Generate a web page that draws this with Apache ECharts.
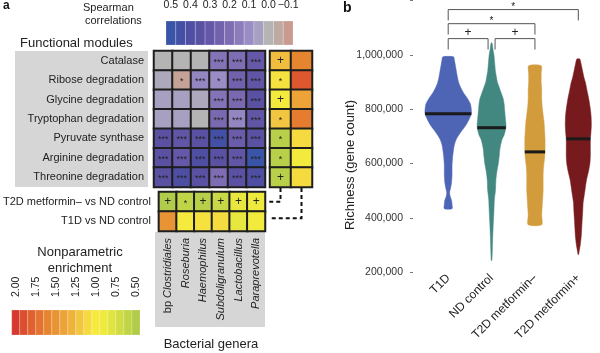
<!DOCTYPE html>
<html>
<head>
<meta charset="utf-8">
<script src="https://cdn.jsdelivr.net/npm/echarts@6/dist/echarts.min.js"></script>
<style>html,body{margin:0;padding:0;background:#fff}#c{width:600px;height:353px}</style>
</head>
<body>
<div id="c"></div>
<script>
// ---------- DATA ----------
const genera = ['bp Clostridiales', 'Roseburia', 'Haemophilus', 'Subdoligranulum', 'Lactobacillus', 'Paraprevotella'];
const modules = ['Catalase', 'Ribose degradation', 'Glycine degradation', 'Tryptophan degradation', 'Pyruvate synthase', 'Arginine degradation', 'Threonine degradation'];
const comparisons = ['T2D metformin\u2013 vs ND control', 'T1D vs ND control'];

// Spearman correlation (rows = modules, cols = genera)
const corrValues = [
  [0.00, 0.00, 0.00, 0.18, 0.20, 0.30],
  [0.03, -0.08, 0.12, 0.10, 0.25, 0.32],
  [0.05, 0.05, 0.03, 0.18, 0.22, 0.35],
  [0.05, 0.05, 0.00, 0.22, 0.12, 0.32],
  [0.35, 0.32, 0.35, 0.45, 0.28, 0.35],
  [0.35, 0.30, 0.40, 0.35, 0.32, 0.50],
  [0.35, 0.40, 0.35, 0.20, 0.35, 0.40]
];
const corrStars = [
  ['', '', '', '***', '***', '***'],
  ['', '*', '***', '*', '***', '***'],
  ['', '', '', '***', '***', '***'],
  ['', '', '', '***', '***', '***'],
  ['***', '***', '***', '***', '***', '***'],
  ['***', '***', '***', '***', '***', '***'],
  ['***', '***', '***', '***', '***', '***']
];
// module enrichment (rows = modules, cols = comparisons)
const moduleEnrich = [
  [1.25, 1.60], [1.05, 1.85], [0.95, 1.40], [1.20, 1.65], [0.55, 1.10], [0.55, 0.95], [0.55, 1.10]
];
const moduleEnrichSig = [['+', ''], ['*', ''], ['+', ''], ['*', ''], ['*', ''], ['*', ''], ['+', '']];
// genus enrichment (rows = comparisons, cols = genera)
const genusEnrich = [
  [0.50, 0.60, 0.55, 0.65, 0.85, 0.90],
  [1.50, 1.00, 1.05, 1.10, 0.85, 0.95]
];
const genusEnrichSig = [['+', '*', '+', '+', '+', '+'], ['', '', '', '', '', '']];

// colour scales
const spearmanBar = [0.5, 0.45, 0.4, 0.35, 0.3, 0.25, 0.2, 0.15, 0.1, 0.05, 0.0, -0.05, -0.1];
const spearmanColors = ['#3a55a8', '#4350a5', '#4e4fa3', '#5a51a3', '#6558a8', '#7262ad', '#7f6db3', '#8c7cba', '#9a8cc5', '#a8a0c0', '#b4b4b4', '#bfaaa3', '#c99b90'];
const spearmanTicks = [0.5, 0.4, 0.3, 0.2, 0.1, 0.0, -0.1];
const enrichBar = [2.0, 1.9, 1.8, 1.7, 1.6, 1.5, 1.4, 1.3, 1.2, 1.1, 1.0, 0.9, 0.8, 0.7, 0.6, 0.5];
const enrichColors = ['#d63a2f', '#dc4f2e', '#e0612f', '#e3732f', '#e6852f', '#e99434', '#eca338', '#efb33c', '#f2c640', '#f5da40', '#f7ea3e', '#eeea3e', '#e0e440', '#d0dc44', '#c0d448', '#b0cc4a'];
const enrichTicks = [2.0, 1.75, 1.5, 1.25, 1.0, 0.75, 0.5];

// panel b
const groups = ['T1D', 'ND control', 'T2D metformin\u2013', 'T2D metformin+'];
const groupColors = ['#4d65b4', '#438781', '#d29b3c', '#761a1e'];
const medians = [783000, 732000, 643000, 691000];
// violin outlines: [gene count in thousands, relative density]
const violinT1D = [[993, 5.5], [980, 6.5], [960, 7.5], [940, 8.5], [920, 9.5], [897, 11], [880, 13], [860, 16], [840, 20], [820, 23], [800, 24], [783, 24], [765, 22], [745, 19], [725, 15], [705, 11], [690, 8.5], [670, 6.5], [650, 5.5], [620, 4.5], [590, 4], [560, 4], [530, 3.5], [510, 2.5], [495, 1.5], [480, 2], [465, 3.5], [450, 4], [434, 4]];
const violinND = [[1044, 0.5], [1020, 1.5], [1000, 2.5], [980, 3], [960, 3.5], [940, 4], [920, 5], [900, 6], [880, 8], [860, 10], [840, 12], [820, 13], [800, 13.5], [780, 14], [760, 14.5], [740, 15], [725, 14.5], [705, 13], [690, 11], [670, 9.5], [650, 8.5], [630, 8], [600, 7], [570, 5.5], [540, 4.5], [500, 4], [470, 3], [430, 2.5], [380, 1.8], [330, 1.2], [280, 0.8], [243, 0.3]];
const violinT2Dminus = [[960, 6.5], [930, 6.5], [900, 6.5], [870, 7], [840, 7], [810, 7.5], [780, 8.5], [750, 9.5], [720, 10], [690, 10.5], [660, 10.5], [643, 10.5], [620, 10], [590, 9], [560, 8.5], [530, 8.5], [500, 8.5], [470, 8], [440, 7.5], [410, 7], [375, 7]];
const violinT2Dplus = [[985, 1.5], [965, 3], [940, 4.5], [915, 6], [897, 7.5], [870, 9], [835, 11], [800, 12.5], [772, 13.3], [740, 13.5], [710, 13], [691, 12.5], [660, 12.5], [630, 12.5], [600, 12], [570, 10.5], [540, 8.5], [504, 7], [480, 6], [456, 5], [420, 4.5], [393, 4], [360, 3.5], [331, 3], [300, 2], [280, 1], [265, 0.3]];
const violinProfiles = [violinT1D, violinND, violinT2Dminus, violinT2Dplus];

// significance brackets
const bracketFrom = [0, 1, 0, 0];
const bracketTo = [1, 2, 2, 3];
const bracketLevel = [1060000, 1060000, 1115000, 1167000];
const bracketLabel = ['+', '+', '*', '*'];

// ---------- CHART ----------
const chart = echarts.init(document.getElementById('c'), null, {renderer: 'canvas'});
const FONT = '"Liberation Sans", Arial, Helvetica, sans-serif';
const TXT = '#222';

function barRender(step) {
  return function (params, api) {
    const v = api.value(0);
    const p1 = api.coord([v - step / 2, 1]);
    const p2 = api.coord([v + step / 2, 0]);
    return {
      type: 'rect',
      shape: {x: Math.min(p1[0], p2[0]), y: Math.min(p1[1], p2[1]), width: Math.abs(p2[0] - p1[0]), height: Math.abs(p2[1] - p1[1])},
      style: {fill: api.visual('color'), stroke: 'rgba(255,255,255,0.35)', lineWidth: 0.6}
    };
  };
}

function fmtNum(v) { return String(v).replace(/\B(?=(\d{3})+(?!\d))/g, ','); }

const mainData = [];
corrValues.forEach((row, r) => row.forEach((v, c) => mainData.push([c, r, v])));
const rightData = [];
moduleEnrich.forEach((row, r) => row.forEach((v, c) => rightData.push([c, r, v])));
const bottomData = [];
genusEnrich.forEach((row, r) => row.forEach((v, c) => bottomData.push([c, r, v])));

function sigLabel(s) {
  if (!s) return '';
  if (s === '+') return '{p|+}';
  return '{s|' + s + '}';
}
const cellRich = {
  s: {fontSize: 9, color: TXT, fontFamily: FONT, padding: [3, 0, 0, 0]},
  p: {fontSize: 12, color: TXT, fontFamily: FONT}
};
const cellStyle = {borderColor: '#1e1e1e', borderWidth: 2};

function interp(prof, v) {
  for (let k = 0; k < prof.length - 1; k++) {
    const a = prof[k], b = prof[k + 1];
    if ((v <= a[0] && v >= b[0])) {
      const t = (a[0] - v) / (a[0] - b[0]);
      return a[1] + t * (b[1] - a[1]);
    }
  }
  return 0;
}

const option = {
  animation: false,
  textStyle: {fontFamily: FONT},
  grid: [
    {left: 166, top: 20, width: 127, height: 25},
    {left: 11.7, top: 310, width: 128.3, height: 25},
    {left: 154, top: 51, width: 111, height: 136, show: true, borderColor: '#1e1e1e', borderWidth: 1.5, backgroundColor: 'transparent'},
    {left: 270, top: 51, width: 42, height: 136, show: true, borderColor: '#1e1e1e', borderWidth: 1.5, backgroundColor: 'transparent'},
    {left: 154, top: 192, width: 111, height: 39, show: true, borderColor: '#1e1e1e', borderWidth: 1.5, backgroundColor: 'transparent'},
    {left: 426.5, top: 0.6, width: 180, height: 271.6}
  ],
  xAxis: [
    {gridIndex: 0, type: 'value', position: 'top', inverse: true, min: -0.125, max: 0.525,
      axisLine: {show: false}, splitLine: {show: false},
      axisTick: {show: true, length: 7, customValues: spearmanTicks, lineStyle: {color: '#222', width: 1}},
      axisLabel: {customValues: spearmanTicks, fontSize: 10.5, color: TXT, margin: 10,
        formatter: v => (v < 0 ? '\u2212' : '') + Math.abs(v).toFixed(1)}},
    {gridIndex: 1, type: 'value', position: 'top', inverse: true, min: 0.45, max: 2.05,
      axisLine: {show: false}, splitLine: {show: false},
      axisTick: {show: true, length: 8, customValues: enrichTicks, lineStyle: {color: '#222', width: 1}},
      axisLabel: {customValues: enrichTicks, fontSize: 10.5, color: TXT, margin: 13, rotate: 90,
        formatter: v => v.toFixed(2)}},
    {gridIndex: 2, type: 'category', data: genera, show: false},
    {gridIndex: 3, type: 'category', data: comparisons, show: false},
    {gridIndex: 4, type: 'category', data: genera, position: 'bottom',
      axisLine: {show: false}, axisTick: {show: false},
      axisLabel: {rotate: 90, margin: 7, color: TXT, fontSize: 11, interval: 0,
        formatter: v => v.indexOf('bp ') === 0 ? '{n|bp }{i|' + v.slice(3) + '}' : '{i|' + v + '}',
        rich: {n: {fontSize: 11, color: TXT, fontFamily: FONT}, i: {fontSize: 11, color: TXT, fontStyle: 'italic', fontFamily: FONT}}}},
    {gridIndex: 5, type: 'category', data: groups, boundaryGap: true,
      axisLine: {show: false}, axisTick: {show: false},
      axisLabel: {rotate: 45, margin: 4, color: TXT, fontSize: 12, interval: 0}}
  ],
  yAxis: [
    {gridIndex: 0, type: 'value', min: 0, max: 1, show: false},
    {gridIndex: 1, type: 'value', min: 0, max: 1, show: false},
    {gridIndex: 2, type: 'category', data: modules, inverse: true,
      axisLine: {show: false}, axisTick: {show: false},
      axisLabel: {margin: 10, color: TXT, fontSize: 11}},
    {gridIndex: 3, type: 'category', data: modules, inverse: true, show: false},
    {gridIndex: 4, type: 'category', data: comparisons, inverse: true,
      axisLine: {show: false}, axisTick: {show: false},
      axisLabel: {margin: 8, color: TXT, fontSize: 11}},
    {gridIndex: 5, type: 'value', min: 200000, max: 1200000, interval: 200000, offset: 13.5,
      axisLine: {show: false}, splitLine: {show: false},
      axisTick: {show: true, length: 3, lineStyle: {color: '#777'}},
      axisLabel: {margin: 10, color: '#333', fontSize: 10.5, formatter: v => v > 1000000 ? '' : fmtNum(v)}}
  ],
  visualMap: [
    {type: 'continuous', show: false, seriesIndex: 0, dimension: 0, min: -0.1, max: 0.5, inRange: {color: spearmanColors.slice().reverse()}},
    {type: 'continuous', show: false, seriesIndex: 2, dimension: 2, min: -0.1, max: 0.5, inRange: {color: spearmanColors.slice().reverse()}},
    {type: 'continuous', show: false, seriesIndex: 1, dimension: 0, min: 0.5, max: 2.0, inRange: {color: enrichColors.slice().reverse()}},
    {type: 'continuous', show: false, seriesIndex: [3, 4], dimension: 2, min: 0.5, max: 2.0, inRange: {color: enrichColors.slice().reverse()}}
  ],
  series: [
    {type: 'custom', xAxisIndex: 0, yAxisIndex: 0, data: spearmanBar.map(v => [v, 0.5]), renderItem: barRender(0.05), silent: true},
    {type: 'custom', xAxisIndex: 1, yAxisIndex: 1, data: enrichBar.map(v => [v, 0.5]), renderItem: barRender(0.1), silent: true},
    {type: 'heatmap', xAxisIndex: 2, yAxisIndex: 2, data: mainData, itemStyle: cellStyle,
      label: {show: true, formatter: p => sigLabel(corrStars[p.data[1]][p.data[0]]), rich: cellRich}, emphasis: {disabled: true}},
    {type: 'heatmap', xAxisIndex: 3, yAxisIndex: 3, data: rightData, itemStyle: cellStyle,
      label: {show: true, formatter: p => sigLabel(moduleEnrichSig[p.data[1]][p.data[0]]), rich: cellRich}, emphasis: {disabled: true}},
    {type: 'heatmap', xAxisIndex: 4, yAxisIndex: 4, data: bottomData, itemStyle: cellStyle,
      label: {show: true, formatter: p => sigLabel(genusEnrichSig[p.data[1]][p.data[0]]), rich: cellRich}, emphasis: {disabled: true}},
    {type: 'custom', xAxisIndex: 5, yAxisIndex: 5, data: groups.map((g, i) => [i, medians[i]]), silent: true,
      renderItem: function (params, api) {
        const i = params.dataIndex;
        const prof = violinProfiles[i];
        const s = api.size([1, 0])[0] / 45;
        const cx = api.coord([i, 0])[0];
        const right = prof.map(p => [cx + p[1] * s, api.coord([i, p[0] * 1000])[1]]);
        const left = prof.map(p => [cx - p[1] * s, api.coord([i, p[0] * 1000])[1]]).reverse();
        const my = api.coord([i, medians[i]])[1];
        const hw = interp(prof, medians[i] / 1000) * s;
        return {type: 'group', children: [
          {type: 'polygon', shape: {points: right.concat(left), smooth: 0.25}, style: {fill: groupColors[i], stroke: groupColors[i], lineWidth: 0.5}},
          {type: 'line', shape: {x1: cx - hw, y1: my, x2: cx + hw, y2: my}, style: {stroke: '#1a1a1a', lineWidth: 3}}
        ]};
      }},
    {type: 'custom', xAxisIndex: 5, yAxisIndex: 5, data: bracketLevel.map((lv, k) => [bracketFrom[k], lv]), silent: true, z: 5,
      renderItem: function (params, api) {
        const k = params.dataIndex;
        const f = bracketFrom[k], t = bracketTo[k], lv = bracketLevel[k];
        let x1 = api.coord([f, lv])[0], x2 = api.coord([t, lv])[0];
        bracketLevel.forEach((l2, j) => {
          if (j !== k && l2 === lv) {
            if (bracketFrom[j] === t) x2 -= 3.5;
            if (bracketTo[j] === f) x1 += 3.5;
          }
        });
        const yTop = api.coord([f, lv])[1];
        const yLeg = api.coord([f, lv - 40000])[1];
        const lab = bracketLabel[k];
        return {type: 'group', children: [
          {type: 'polyline', shape: {points: [[x1, yLeg], [x1, yTop], [x2, yTop], [x2, yLeg]]}, style: {stroke: '#555', lineWidth: 1, fill: null}},
          {type: 'text', style: {x: (x1 + x2) / 2, y: yTop - (lab === '+' ? 6 : 2), text: lab, fill: TXT, fontSize: lab === '+' ? 12 : 10, fontFamily: FONT, align: 'center', verticalAlign: 'middle'}}
        ]};
      }}
  ],
  graphic: [
    {id: 'boxMod', type: 'rect', z: -10, shape: {x: 15, y: 51, width: 133, height: 136}, style: {fill: '#d6d6d6'}},
    {id: 'boxGen', type: 'rect', z: -10, shape: {x: 155, y: 232, width: 110, height: 95}, style: {fill: '#d6d6d6'}},
    {id: 'tA', type: 'text', left: 3, top: 0, style: {text: 'a', font: 'bold 12px ' + FONT, fill: '#111'}},
    {id: 'tB', type: 'text', left: 343, top: 1, style: {text: 'b', font: 'bold 14px ' + FONT, fill: '#111'}},
    {id: 'tSp1', type: 'text', x: 83, y: 8, style: {text: 'Spearman', font: '11px ' + FONT, fill: TXT, align: 'left', verticalAlign: 'middle'}},
    {id: 'tSp2', type: 'text', x: 85, y: 21, style: {text: 'correlations', font: '11px ' + FONT, fill: TXT, align: 'left', verticalAlign: 'middle'}},
    {id: 'tFM', type: 'text', x: 20, y: 43, style: {text: 'Functional modules', font: '13px ' + FONT, fill: TXT, align: 'left', verticalAlign: 'middle'}},
    {id: 'tNp1', type: 'text', x: 80, y: 252, style: {text: 'Nonparametric', font: '13px ' + FONT, fill: TXT, align: 'center', verticalAlign: 'middle'}},
    {id: 'tNp2', type: 'text', x: 80, y: 268, style: {text: 'enrichment', font: '13px ' + FONT, fill: TXT, align: 'center', verticalAlign: 'middle'}},
    {id: 'tBG', type: 'text', x: 211, y: 344, style: {text: 'Bacterial genera', font: '13px ' + FONT, fill: TXT, align: 'center', verticalAlign: 'middle'}},
    {id: 'tRich', type: 'text', x: 350, y: 165, rotation: Math.PI / 2, style: {text: 'Richness (gene count)', font: '13px ' + FONT, fill: TXT, align: 'center', verticalAlign: 'middle'}}
  ]
};
chart.setOption(option);

// dashed connectors from the comparison columns to the comparison rows
const conn = comparisons.map((c, k) => {
  const colPt = chart.convertToPixel({xAxisIndex: 3, yAxisIndex: 3}, [k, modules.length - 1]);
  const rowPt = chart.convertToPixel({xAxisIndex: 4, yAxisIndex: 4}, [genera.length - 1, k]);
  const halfH = 136 / modules.length / 2;
  const y = rowPt[1] + (k === 0 ? 0 : -3);
  return {id: 'conn' + k, type: 'polyline', z: 10,
    shape: {points: [[colPt[0], colPt[1] + halfH + 1], [colPt[0], y], [rowPt[0] + 13, y]]},
    style: {stroke: '#111', lineWidth: 2, lineDash: [4, 3], fill: null}};
});
chart.setOption({graphic: conn});
</script>
</body>
</html>
